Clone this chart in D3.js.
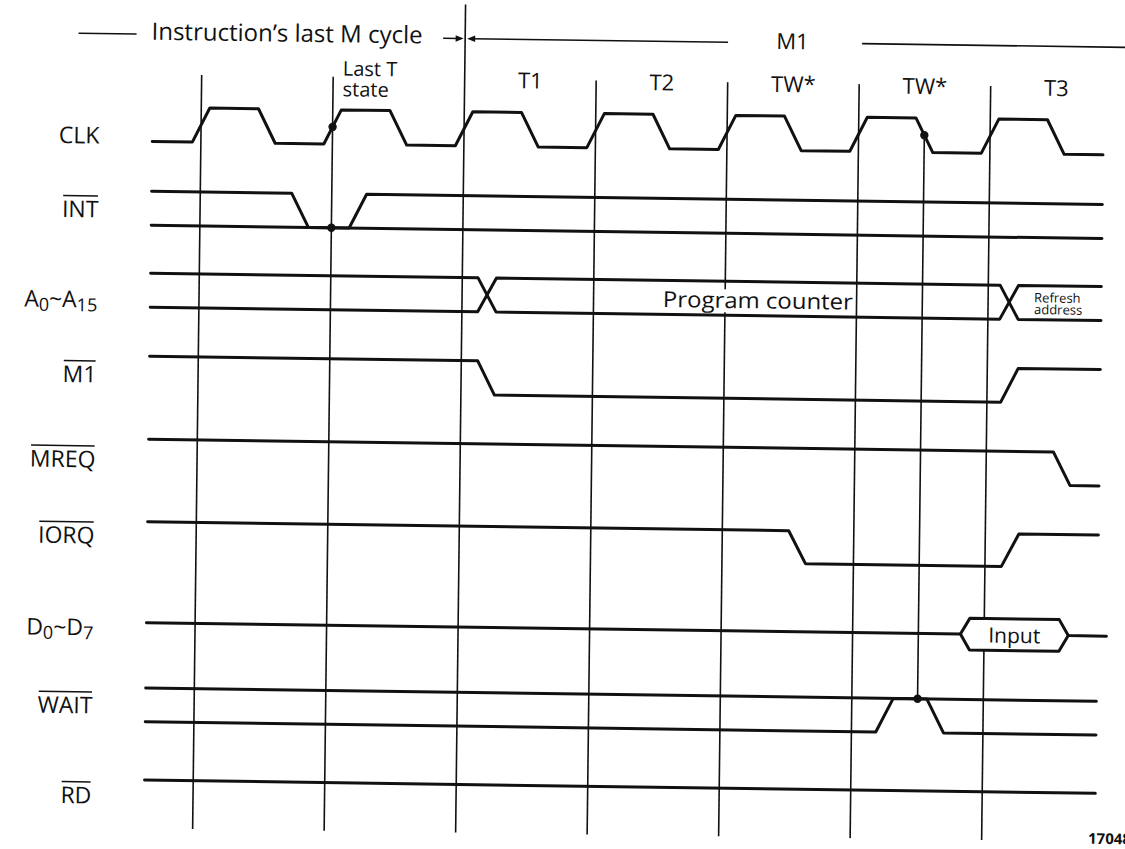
<!DOCTYPE html>
<html lang="en">
<head>
<meta charset="UTF-8">
<title>Interrupt acknowledge timing</title>
<script src="https://cdn.jsdelivr.net/npm/d3@7"></script>
<style>
  html, body { margin: 0; padding: 0; background: #fff; }
  svg { display: block; }
  text { font-family: "Open Sans", sans-serif; fill: #111; }
</style>
</head>
<body>
<div id="chart"></div>
<script>
// ---- data: times are in clock periods, 0 = first rising edge drawn ----
var signalNames  = ["CLK", "INT", "A0~A15", "M1", "MREQ", "IORQ", "D0~D7", "WAIT", "RD"];
var activeLow    = [false, true, false, true, true, true, false, true, true];
var clockRising  = [0, 1, 2, 3, 4, 5, 6];
var clockFalling = [0.5, 1.5, 2.5, 3.5, 4.5, 5.5, 6.5];
var stateNames   = ["T1", "T2", "TW*", "TW*", "T3"];
var stateStarts  = [2, 3, 4, 5, 6];
var lastState    = ["Last T", "state"];
var lastStateAt  = 1;
var cycleNames   = ["Instruction\u2019s last M cycle", "M1"];
var cycleBoundary = 2;
var intLow    = [0.76, 1.2];      // INT dips low
var addrSwap  = [2.19, 6.16];     // A0~A15 crossovers
var addrText  = ["Program counter", "Refresh", "address"];
var m1Low     = [2.19, 6.17];
var mreqFall  = [6.575];
var iorqLow   = [4.57, 6.19];
var dataIn    = [5.82, 6.64];     // Input window on D0~D7
var dataText  = "Input";
var waitHigh  = [5.25, 5.635];
var sampleAt  = [1, 5.5];         // sampling instants
var figureNo  = "17048";

// ---- layout ----
var W = 1125, H = 849;
var tStart = -0.37, tEnd = 6.86, tEndData = 6.93;
var edge = 0.13, busEdge = 0.14;
var ink = "#111";

var x = d3.scaleLinear().domain([0, 6]).range([197.6, 986.6]);
// y of the high and low level of each row
var rowHi = [113, 197, 279, 362, 445, 527.5, 612.6, 693.7, 785.8];
var rowLo = [147.3, 231, 313, 396, 478.4, 560.2, 644.3, 727.5, 785.8];
var labelBase = [150, 224, 314, 389, 474, 550, 642, 720, 810];

function yOf(row, lv) { return rowLo[row] + (rowHi[row] - rowLo[row]) * lv; }

// two level waveform from a start level and a list of transition centres
function wave(startLv, changes, t0, t1, w) {
  var pts = [[t0, startLv]], lv = startLv;
  changes.forEach(function(c) {
    pts.push([c - w / 2, lv]);
    lv = 1 - lv;
    pts.push([c + w / 2, lv]);
  });
  pts.push([t1, lv]);
  return pts;
}

var svg = d3.select("#chart").append("svg")
  .attr("width", W).attr("height", H);
svg.append("rect").attr("width", W).attr("height", H).attr("fill", "#fff");

// the scan is a little skewed, so draw inside a slightly sheared group
var g = svg.append("g")
  .attr("transform", "matrix(1,0.014,-0.012,1,5.04,-7.84)");

// ---- vertical reference lines at rising edges ----
var gridTop = 80, gridBottom = 834;
g.selectAll("line.edge").data(clockRising).enter().append("line")
  .attr("class", "edge")
  .attr("x1", function(d) { return x(d); })
  .attr("x2", function(d) { return x(d); })
  .attr("y1", function(d) { return d === cycleBoundary ? 6 : gridTop; })
  .attr("y2", gridBottom)
  .attr("stroke", ink).attr("stroke-width", 1.6);

// sampling line from the CLK falling edge down to WAIT
g.append("line")
  .attr("x1", x(sampleAt[1])).attr("x2", x(sampleAt[1]))
  .attr("y1", yOf(0, 0.5)).attr("y2", yOf(7, 1))
  .attr("stroke", ink).attr("stroke-width", 1.6);

// ---- waveforms ----
function draw(row, pts) {
  var line = d3.line()
    .x(function(d) { return x(d[0]); })
    .y(function(d) { return yOf(row, d[1]); });
  g.append("path").attr("d", line(pts))
    .attr("fill", "none").attr("stroke", ink)
    .attr("stroke-width", 3).attr("stroke-linejoin", "round")
    .attr("stroke-linecap", "round");
}

var clkChanges = clockRising.concat(clockFalling).sort(d3.ascending);
draw(0, wave(0, clkChanges, tStart, tEnd, edge));

draw(1, [[tStart, 0], [tEnd, 0]]);
draw(1, wave(1, intLow, tStart, tEnd, edge));

// address bus: two crossing lines
draw(2, wave(1, addrSwap, tStart, tEnd, busEdge));
draw(2, wave(0, addrSwap, tStart, tEnd, busEdge));

draw(3, wave(1, m1Low, tStart, tEnd, edge));
draw(4, wave(1, mreqFall, tStart, tEnd, edge));
draw(5, wave(1, iorqLow, tStart, tEnd, edge));

// data bus: floating line with an Input window
var h = busEdge / 2;
var hex = [[dataIn[0], 0.5], [dataIn[0] + h, 1], [dataIn[1] - h, 1], [dataIn[1], 0.5],
           [dataIn[1] - h, 0], [dataIn[0] + h, 0], [dataIn[0], 0.5]];
g.append("path")
  .attr("d", d3.line().x(function(d) { return x(d[0]); })
    .y(function(d) { return yOf(6, d[1]); })(hex))
  .attr("fill", "#fff").attr("stroke", "none");
draw(6, [[tStart, 0.5]].concat(hex.slice(0, 4)).concat([[tEndData, 0.5]]));
draw(6, hex.slice(3));

draw(7, [[tStart, 1], [tEnd, 1]]);
draw(7, wave(0, waitHigh, tStart, tEnd, edge));

draw(8, [[tStart, 1], [tEnd, 1]]);

// sampling dots
var dots = [[0, sampleAt[0], 0.5], [1, sampleAt[0], 0], [0, sampleAt[1], 0.5], [7, sampleAt[1], 1]];
g.selectAll("circle.dot").data(dots).enter().append("circle")
  .attr("cx", function(d) { return x(d[1]); })
  .attr("cy", function(d) { return yOf(d[0], d[2]); })
  .attr("r", 4.2).attr("fill", ink);

// ---- bus texts ----
var pc = g.append("text")
  .attr("x", x(4.25)).attr("y", 305.6)
  .attr("text-anchor", "middle").attr("font-size", 22)
  .attr("textLength", 190).attr("lengthAdjust", "spacingAndGlyphs")
  .text(addrText[0]);
var bb = pc.node().getBBox();
g.insert("rect", "path")
  .attr("x", bb.x - 2).attr("y", 287).attr("width", bb.width + 4).attr("height", 23)
  .attr("fill", "#fff");

var ra = g.append("text").attr("x", 1032.6).attr("y", 295.7).attr("font-size", 13);
ra.append("tspan").attr("x", 1032.6).text(addrText[1]);
ra.append("tspan").attr("x", 1032.6).attr("dy", 11.8).text(addrText[2]);

g.append("text")
  .attr("x", x((dataIn[0] + dataIn[1]) / 2)).attr("y", 636.6)
  .attr("text-anchor", "middle").attr("font-size", 21)
  .text(dataText);

// ---- signal names ----
var labelRight = 96;
signalNames.forEach(function(name, i) {
  var t = g.append("text")
    .attr("x", labelRight).attr("y", labelBase[i])
    .attr("text-anchor", "end").attr("font-size", 23);
  if (name.indexOf("~") >= 0) {
    // bus names get subscript digits
    var parts = name.match(/[A-Z~]+|\d+/g);
    var shifted = false;
    parts.forEach(function(p) {
      var digit = /\d/.test(p);
      var s = t.append("tspan").text(p);
      if (digit && !shifted) { s.attr("dy", 4).attr("font-size", 18); shifted = true; }
      else if (digit) { s.attr("font-size", 18); }
      else if (shifted) { s.attr("dy", -4); shifted = false; }
    });
  } else {
    t.text(name);
  }
  if (activeLow[i]) {
    var b = t.node().getBBox();
    g.append("line")
      .attr("x1", b.x + 1).attr("x2", b.x + b.width - 1)
      .attr("y1", labelBase[i] - 21.5).attr("y2", labelBase[i] - 21.5)
      .attr("stroke", ink).attr("stroke-width", 1.5);
  }
});

// ---- T state names ----
g.selectAll("text.state").data(stateNames).enter().append("text")
  .attr("class", "state")
  .attr("x", function(d, i) { return x(stateStarts[i] + 0.5); })
  .attr("y", 89)
  .attr("text-anchor", "middle").attr("font-size", 22)
  .text(function(d) { return d; });

var ls = g.append("text").attr("y", 78.7).attr("font-size", 20);
lastState.forEach(function(s, i) {
  ls.append("tspan")
    .attr("x", x(lastStateAt) + 9.6).attr("dy", i ? 20.6 : 0)
    .text(s);
});

// ---- machine cycle header ----
var hy = 40, xb = x(cycleBoundary);
g.append("line").attr("x1", 74).attr("x2", 132).attr("y1", hy).attr("y2", hy)
  .attr("stroke", ink).attr("stroke-width", 1.6);
g.append("text").attr("x", 147).attr("y", 45.5)
  .attr("font-size", 24)
  .attr("textLength", 271).attr("lengthAdjust", "spacingAndGlyphs")
  .text(cycleNames[0]);

// arrows pointing at the cycle boundary
g.append("line").attr("x1", xb - 22).attr("x2", xb - 6).attr("y1", hy).attr("y2", hy)
  .attr("stroke", ink).attr("stroke-width", 1.4);
g.append("path")
  .attr("d", "M" + (xb - 1.5) + "," + hy + "l-8,-3.2l0,6.4z").attr("fill", ink);
g.append("path")
  .attr("d", "M" + (xb + 2) + "," + hy + "l8,-3.2l0,6.4z").attr("fill", ink);

g.append("text").attr("x", 788).attr("y", 46)
  .attr("text-anchor", "middle").attr("font-size", 22)
  .text(cycleNames[1]);
g.append("line").attr("x1", xb + 6).attr("x2", 723.5).attr("y1", hy).attr("y2", hy)
  .attr("stroke", ink).attr("stroke-width", 1.6);
g.append("line").attr("x1", 857.5).attr("x2", 1140).attr("y1", hy - 0.5).attr("y2", hy - 0.5)
  .attr("stroke", ink).attr("stroke-width", 1.6);

// figure number, cut by the page edge as in the scan
g.append("text").attr("x", 1093).attr("y", 836.4)
  .attr("font-size", 15).attr("font-weight", "bold")
  .text(figureNo);
</script>
</body>
</html>
